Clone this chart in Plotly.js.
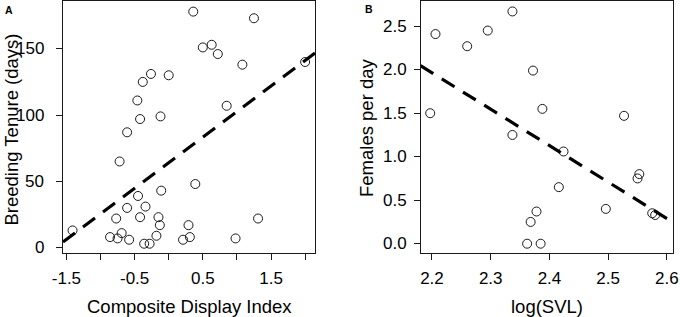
<!DOCTYPE html>
<html>
<head>
<meta charset="utf-8">
<script src="https://cdn.plot.ly/plotly-3.0.1.min.js"></script>
<style>
  html, body { margin: 0; padding: 0; background: #ffffff; }
  #chart { width: 680px; height: 317px; }
</style>
</head>
<body>
<div id="chart"></div>
<script>
// Panel A: Composite Display Index vs Breeding Tenure (days)
const displayIndex = [-1.41, -0.86, -0.77, -0.75, -0.69, -0.72, -0.61, -0.61, -0.58, -0.46,
  -0.42, -0.45, -0.42, -0.38, -0.36, -0.34, -0.26, -0.28, -0.18, -0.15,
  -0.13, -0.12, -0.11, 0.00, 0.21, 0.29, 0.31, 0.36, 0.39, 0.50,
  0.63, 0.72, 0.85, 0.98, 1.08, 1.25, 1.31, 2.00];
const breedingTenure = [13, 8, 22, 7, 11, 65, 87, 30, 6, 111,
  97, 39, 23, 125, 3, 31, 131, 3, 9, 23,
  17, 99, 43, 130, 6, 17, 8, 178, 48, 151,
  153, 146, 107, 7, 138, 173, 22, 140];

// Panel B: log(SVL) vs Females per day
const logSVL = [2.197, 2.206, 2.260, 2.295, 2.337, 2.337, 2.362, 2.368, 2.372, 2.378,
  2.385, 2.388, 2.416, 2.424, 2.496, 2.527, 2.550, 2.553, 2.575, 2.580];
const femalesPerDay = [1.50, 2.41, 2.27, 2.45, 2.67, 1.25, 0.00, 0.25, 1.99, 0.37,
  0.00, 1.55, 0.65, 1.06, 0.40, 1.47, 0.75, 0.80, 0.35, 0.33];

// Tick labels
const xTickValsA = [-1.5, -1.0, -0.5, 0, 0.5, 1.0, 1.5, 2.0];
const xTickTextA = ['-1.5', '', '-0.5', '', '0.5', '', '1.5', ''];
const yTickValsA = [0, 50, 100, 150];
const yTickTextA = ['0', '50', '100', '150'];
const xTickValsB = [2.2, 2.3, 2.4, 2.5, 2.6];
const xTickTextB = ['2.2', '2.3', '2.4', '2.5', '2.6'];
const yTickValsB = [0, 0.5, 1.0, 1.5, 2.0, 2.5];
const yTickTextB = ['0.0', '0.5', '1.0', '1.5', '2.0', '2.5'];

// Text
const panelLabels = ['A', 'B'];
const xTitles = ['Composite Display Index', 'log(SVL)'];
const yTitles = ['Breeding Tenure (days)', 'Females per day'];

// ---- helpers ----
function ols(x, y) {
  const n = x.length;
  const mx = x.reduce((a, b) => a + b, 0) / n;
  const my = y.reduce((a, b) => a + b, 0) / n;
  let sxy = 0, sxx = 0;
  for (let i = 0; i < n; i++) { sxy += (x[i] - mx) * (y[i] - my); sxx += (x[i] - mx) ** 2; }
  const b = sxy / sxx;
  return { a: my - b * mx, b: b };
}

// axis extents (layout)
const xrA = [-1.55, 2.145], yrA = [-4, 186];
const xrB = [2.1805, 2.6095], yrB = [-0.107, 2.79];
const fitA = ols(displayIndex, breedingTenure);
const fitB = ols(logSVL, femalesPerDay);

const FONT = 'Liberation Sans, Arial, Helvetica, sans-serif';
const INK = '#1a1a1a';

const markerStyle = { symbol: 'circle-open', size: 9, color: INK, line: { width: 1, color: INK } };
const dashStyle = { color: '#000', width: 3.2, dash: '15px,10px' };

const traces = [
  { type: 'scatter', mode: 'markers', x: displayIndex, y: breedingTenure,
    marker: markerStyle, xaxis: 'x', yaxis: 'y', hoverinfo: 'x+y' },
  { type: 'scatter', mode: 'lines', x: xrA, y: xrA.map(v => fitA.a + fitA.b * v),
    line: dashStyle, xaxis: 'x', yaxis: 'y', hoverinfo: 'skip' },
  { type: 'scatter', mode: 'markers', x: logSVL, y: femalesPerDay,
    marker: markerStyle, xaxis: 'x2', yaxis: 'y2', hoverinfo: 'x+y' },
  { type: 'scatter', mode: 'lines', x: xrB, y: xrB.map(v => fitB.a + fitB.b * v),
    line: dashStyle, xaxis: 'x2', yaxis: 'y2', hoverinfo: 'skip' },
  // empty traces that activate the label-only x axes
  { type: 'scatter', mode: 'markers', x: [], y: [], xaxis: 'x3', yaxis: 'y', hoverinfo: 'skip' },
  { type: 'scatter', mode: 'markers', x: [], y: [], xaxis: 'x4', yaxis: 'y2', hoverinfo: 'skip' }
];

// frame + tick marks (no labels)
function frameAxis(extra) {
  return Object.assign({
    showline: true, mirror: true, linecolor: INK, linewidth: 1,
    ticks: 'outside', ticklen: 6, tickwidth: 1, tickcolor: INK,
    showgrid: false, zeroline: false, fixedrange: true,
    showticklabels: false, tickmode: 'array'
  }, extra);
}
// tick labels only, on a free axis placed where the labels sit
function labelAxis(extra) {
  return Object.assign({
    anchor: 'free', showline: false, ticks: '', showgrid: false, zeroline: false,
    fixedrange: true, tickmode: 'array', showticklabels: true, autorange: false,
    tickfont: { family: FONT, size: 17, color: '#000' }
  }, extra);
}

const W = 680, H = 317;
const px = v => v / W, py = v => 1 - v / H;
const domXA = [px(63), px(315)], domXB = [px(420.5), px(672.5)], domY = [py(253), py(1)];

// y tick labels placed on the y scales
const tickFont = { family: FONT, size: 17, color: '#000' };
const yLabelAnns = [].concat(
  yTickValsA.map((v, i) => ({ text: yTickTextA[i], x: px(45.5), xref: 'paper', y: v, yref: 'y',
    xanchor: 'right', yanchor: 'middle', showarrow: false, font: tickFont })),
  yTickValsB.map((v, i) => ({ text: yTickTextB[i], x: px(408.5), xref: 'paper', y: v, yref: 'y2',
    xanchor: 'right', yanchor: 'middle', showarrow: false, font: tickFont }))
);

const layout = {
  width: W, height: H,
  margin: { l: 0, r: 0, t: 0, b: 0, pad: 0 },
  paper_bgcolor: '#fff', plot_bgcolor: '#fff',
  showlegend: false,
  font: { family: FONT, color: '#000' },
  xaxis: frameAxis({ domain: domXA, range: xrA, tickvals: xTickValsA, anchor: 'y' }),
  yaxis: frameAxis({ domain: domY, range: yrA, tickvals: yTickValsA, anchor: 'x' }),
  xaxis2: frameAxis({ domain: domXB, range: xrB, tickvals: xTickValsB, anchor: 'y2' }),
  yaxis2: frameAxis({ domain: domY, range: yrB, tickvals: yTickValsB, anchor: 'x2' }),
  xaxis3: labelAxis({ domain: domXA, range: xrA, overlaying: 'x', side: 'bottom', position: py(266),
    tickvals: xTickValsA, ticktext: xTickTextA }),
  xaxis4: labelAxis({ domain: domXB, range: xrB, overlaying: 'x2', side: 'bottom', position: py(266),
    tickvals: xTickValsB, ticktext: xTickTextB }),
  annotations: yLabelAnns.concat([
    { text: '<b>' + panelLabels[0] + '</b>', x: px(8.5), y: py(9.5), xref: 'paper', yref: 'paper',
      showarrow: false, xanchor: 'center', yanchor: 'middle', font: { family: FONT, size: 10.5, color: '#000' } },
    { text: '<b>' + panelLabels[1] + '</b>', x: px(369), y: py(9), xref: 'paper', yref: 'paper',
      showarrow: false, xanchor: 'center', yanchor: 'middle', font: { family: FONT, size: 10.5, color: '#000' } },
    { text: xTitles[0], x: px(189), y: py(306), xref: 'paper', yref: 'paper',
      showarrow: false, xanchor: 'center', yanchor: 'middle', font: { family: FONT, size: 18.5, color: '#000' } },
    { text: xTitles[1], x: px(546.5), y: py(306), xref: 'paper', yref: 'paper',
      showarrow: false, xanchor: 'center', yanchor: 'middle', font: { family: FONT, size: 18.5, color: '#000' } },
    { text: yTitles[0], x: px(10.5), y: py(130), xref: 'paper', yref: 'paper', textangle: -90,
      showarrow: false, xanchor: 'center', yanchor: 'middle', font: { family: FONT, size: 18.5, color: '#000' } },
    { text: yTitles[1], x: px(367), y: py(128), xref: 'paper', yref: 'paper', textangle: -90,
      showarrow: false, xanchor: 'center', yanchor: 'middle', font: { family: FONT, size: 18.5, color: '#000' } }
  ])
};

Plotly.newPlot('chart', traces, layout, { displayModeBar: false, staticPlot: true });
</script>
</body>
</html>
